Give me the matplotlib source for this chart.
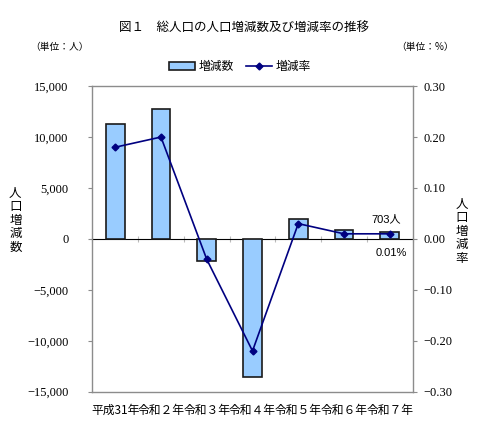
import numpy as np
import matplotlib
matplotlib.use('Agg')
import matplotlib.pyplot as plt
from matplotlib.patches import Patch
from matplotlib.lines import Line2D

plt.rcParams['font.family'] = ['Noto Sans CJK JP', 'DejaVu Sans']

# データ
years = ['平成31年', '令和２年', '令和３年', '令和４年', '令和５年', '令和６年', '令和７年']
change = [11300, 12800, -2200, -13600, 2000, 900, 703]
rate = [0.18, 0.20, -0.04, -0.22, 0.03, 0.01, 0.01]
left_ticks = [-15000, -10000, -5000, 0, 5000, 10000, 15000]
right_ticks = [-0.30, -0.20, -0.10, 0.00, 0.10, 0.20, 0.30]

grey = '#8c8c8c'
serif = ['Liberation Serif', 'DejaVu Serif']

fig = plt.figure(figsize=(4.8, 4.28), dpi=100)
ax = fig.add_axes([0.1923, 0.0848, 0.6675, 0.714])
x = np.arange(len(years))

ax.bar(x, change, width=0.41, color='#99ccff', edgecolor='#1a1a1a', linewidth=1.2, zorder=3)
ax.set_xlim(-0.5, len(years) - 0.5)
ax.set_ylim(-15000, 15000)
ax.set_yticks(left_ticks)
ax.set_yticklabels([f'{v:,}'.replace('-', '\u2212') for v in left_ticks], family=serif, fontsize=9)
ax.set_xticks(x)
ax.set_xticklabels(years, fontsize=8.5)
ax.tick_params(axis='x', length=0, pad=9)
ax.tick_params(axis='y', length=3, color=grey, pad=14)
for s in ax.spines.values():
    s.set_color(grey)
    s.set_linewidth(1.0)

# ゼロの線と区切り目盛
zx = ax.secondary_xaxis(0.5)
zx.set_xticks(np.arange(len(years) + 1) - 0.5)
zx.set_xticklabels([])
zx.tick_params(length=4, direction='inout', color='#bbbbbb')
zx.spines['bottom'].set_color('#aaaaaa')

ax2 = ax.twinx()
ax2.plot(x, rate, color='#000080', marker='D', markersize=3.5, linewidth=1.2, zorder=4)
ax2.set_ylim(-0.3, 0.3)
ax2.set_yticks(right_ticks)
ax2.set_yticklabels([f'{v:.2f}'.replace('-', '\u2212') for v in right_ticks], family=serif, fontsize=9)
ax2.tick_params(axis='y', length=3, color=grey, pad=5)
for s in ax2.spines.values():
    s.set_visible(False)

ax.annotate(f'{change[-1]}人', (x[-1], change[-1]), xytext=(-13, 7), textcoords='offset points',
            fontsize=8, family=['Liberation Sans', 'Noto Sans CJK JP'])
ax2.annotate(f'{rate[-1]:.2f}%', (x[-1], rate[-1]), xytext=(-10, -16), textcoords='offset points',
             fontsize=8, family=['Liberation Sans', 'DejaVu Sans'])

fig.text(0.508, 0.937, '図１　総人口の人口増減数及び増減率の推移', ha='center', va='center', fontsize=9)
fig.text(0.063, 0.89, '（単位：人）', ha='left', va='center', fontsize=7)
fig.text(0.945, 0.89, '（単位：%）', ha='right', va='center', fontsize=7)
fig.text(0.032, 0.485, '人\n口\n増\n減\n数', ha='center', va='center', fontsize=9, linespacing=1.05)
fig.text(0.962, 0.46, '人\n口\n増\n減\n率', ha='center', va='center', fontsize=9, linespacing=1.05)

handles = [Patch(facecolor='#99ccff', edgecolor='#1a1a1a', linewidth=1.2),
           Line2D([], [], color='#000080', marker='D', markersize=3.5, linewidth=1.2)]
fig.legend(handles, ['増減数', '増減率'], loc='center', bbox_to_anchor=(0.5, 0.845), ncol=2,
           frameon=False, fontsize=8.5, handlelength=2.2, handletextpad=0.3, columnspacing=1.0)

fig.savefig('out.png', dpi=100)
